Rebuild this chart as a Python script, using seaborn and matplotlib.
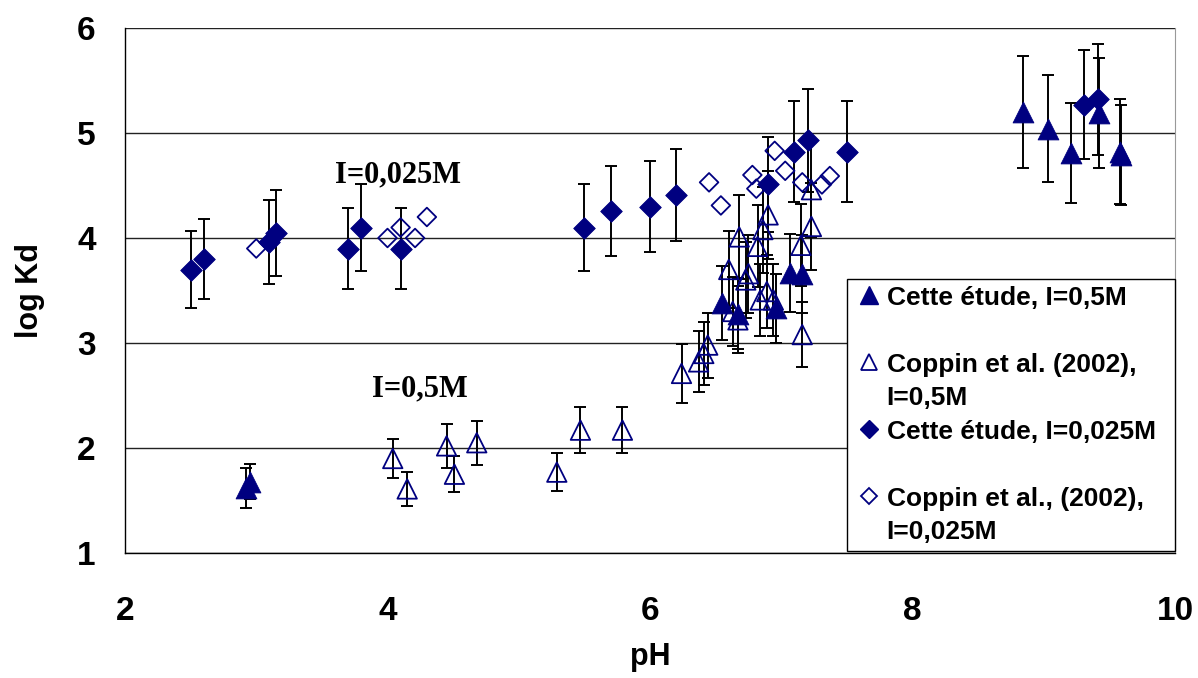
import matplotlib
matplotlib.use("Agg")
import matplotlib.pyplot as plt
from matplotlib.lines import Line2D
import seaborn as sns
import numpy as np

# Cette etude, I=0,5M (filled triangles)
ph_tri = [2.92, 2.95, 6.55, 6.67, 6.96, 7.07, 7.16, 8.84, 9.03, 9.21, 9.42, 9.58, 9.59]
kd_tri = [1.62, 1.68, 3.38, 3.28, 3.33, 3.67, 3.66, 5.20, 5.04, 4.81, 5.19, 4.82, 4.79]
err_tri = [0.19, 0.17, 0.35, 0.34, 0.33, 0.37, 0.37, 0.53, 0.51, 0.48, 0.52, 0.50, 0.48]

# Coppin et al. (2002), I=0,5M (open triangles)
ph_otri = [4.04, 4.15, 4.45, 4.51, 4.68, 5.29, 5.47, 5.79, 6.24, 6.37, 6.41, 6.44,
           6.60, 6.63, 6.67, 6.68, 6.73, 6.75, 6.82, 6.86, 6.90, 6.84, 6.89, 6.94,
           7.15, 7.23, 7.23, 7.16]
kd_otri = [1.90, 1.61, 2.02, 1.75, 2.05, 1.77, 2.17, 2.17, 2.71, 2.82, 2.90, 2.98,
           3.70, 3.30, 3.22, 4.01, 3.60, 3.66, 3.92, 4.08, 4.22, 3.41, 3.49, 3.41,
           3.93, 4.11, 4.46, 3.08]
err_otri = [0.19, 0.16, 0.21, 0.17, 0.21, 0.18, 0.22, 0.22, 0.28, 0.29, 0.30, 0.31,
            0.37, 0.33, 0.32, 0.40, 0.36, 0.37, 0.39, 0.41, 0.42, 0.34, 0.35, 0.34,
            0.39, 0.41, 0.45, 0.31]

# Cette etude, I=0,025M (filled diamonds)
ph_dia = [2.50, 2.60, 3.10, 3.15, 3.70, 3.80, 4.10, 5.50, 5.70, 6.00, 6.20, 6.90,
          7.10, 7.20, 7.50, 9.31, 9.41]
kd_dia = [3.70, 3.80, 3.96, 4.05, 3.90, 4.10, 3.90, 4.10, 4.26, 4.30, 4.41, 4.51,
          4.82, 4.93, 4.82, 5.27, 5.32]
err_dia = [0.37, 0.38, 0.40, 0.41, 0.39, 0.41, 0.39, 0.41, 0.43, 0.43, 0.44, 0.45,
           0.48, 0.49, 0.48, 0.52, 0.53]

# Coppin et al., (2002), I=0,025M (open diamonds)
ph_odia = [3.00, 4.00, 4.10, 4.21, 4.30, 6.45, 6.54, 6.78, 6.81, 6.95, 7.03, 7.16, 7.31, 7.37]
kd_odia = [3.90, 4.00, 4.10, 4.00, 4.20, 4.53, 4.31, 4.60, 4.47, 4.83, 4.64, 4.53, 4.51, 4.59]

NAVY = "#000080"

sns.set_style("white")
plt.rcParams["font.family"] = ["Liberation Sans", "DejaVu Sans"]
plt.rcParams["font.weight"] = "bold"
plt.rcParams["text.color"] = "black"
plt.rcParams["axes.labelcolor"] = "black"
plt.rcParams["xtick.color"] = "black"
plt.rcParams["ytick.color"] = "black"

fig = plt.figure(figsize=(11.98, 6.78), dpi=100)
ax = fig.add_axes([125 / 1198, 1 - 553 / 678, 1050 / 1198, 525 / 678])

ebar = dict(fmt="none", ecolor="black", elinewidth=1.4, capsize=4, capthick=1.4, zorder=2)

ax.errorbar(ph_tri, kd_tri, yerr=err_tri, **ebar)
sns.scatterplot(x=ph_tri, y=kd_tri, marker="^", s=15 ** 2, color=NAVY,
                edgecolor=NAVY, linewidth=0.6, ax=ax, zorder=3)

ax.errorbar(ph_otri, kd_otri, yerr=err_otri, **ebar)
sns.scatterplot(x=ph_otri, y=kd_otri, marker="^", s=14 ** 2, facecolor="none",
                edgecolor=NAVY, linewidth=1.3, ax=ax, zorder=3)

ax.errorbar(ph_dia, kd_dia, yerr=err_dia, **ebar)
sns.scatterplot(x=ph_dia, y=kd_dia, marker="D", s=11 ** 2, color=NAVY,
                edgecolor=NAVY, linewidth=0.6, ax=ax, zorder=3)

sns.scatterplot(x=ph_odia, y=kd_odia, marker="D", s=9.5 ** 2, facecolor="none",
                edgecolor=NAVY, linewidth=1.3, ax=ax, zorder=3)

ax.set_xlim(2, 10)
ax.set_ylim(1, 6)
ax.set_xticks([2, 4, 6, 8, 10])
ax.set_yticks([1, 2, 3, 4, 5, 6])
ax.yaxis.grid(True, color="#222222", linewidth=1)
ax.xaxis.grid(False)
ax.set_axisbelow(True)

ax.spines["top"].set_visible(False)
ax.spines["right"].set_color("#999999")
for s in ["left", "bottom"]:
    ax.spines[s].set_color("black")
    ax.spines[s].set_linewidth(1)

ax.tick_params(axis="both", direction="out", length=9, width=1, color="black",
               labelcolor="black", labelsize=24)
ax.tick_params(axis="y", pad=12)
ax.tick_params(axis="x", pad=22)
for lab in ax.get_xticklabels() + ax.get_yticklabels():
    lab.set_fontweight("bold")

ax.set_xlabel("pH", fontsize=22, fontweight="bold", labelpad=11)
ax.set_ylabel("log Kd", fontsize=22, fontweight="bold", labelpad=23)

ax.text(4.08, 4.60, "I=0,025M", family="Liberation Serif", weight="bold",
        fontsize=22, ha="center", va="center")
ax.text(4.25, 2.56, "I=0,5M", family="Liberation Serif", weight="bold",
        fontsize=22, ha="center", va="center")

blank = Line2D([], [], linestyle="none", marker=None)
handles = [
    Line2D([], [], linestyle="none", marker="^", markersize=13, color=NAVY),
    blank,
    Line2D([], [], linestyle="none", marker="^", markersize=12, markerfacecolor="none",
           markeredgecolor=NAVY, markeredgewidth=1.3),
    blank,
    Line2D([], [], linestyle="none", marker="D", markersize=9.5, color=NAVY),
    blank,
    Line2D([], [], linestyle="none", marker="D", markersize=8.5, markerfacecolor="none",
           markeredgecolor=NAVY, markeredgewidth=1.3),
    blank,
]
labels = ["Cette étude, I=0,5M", " ", "Coppin et al. (2002),", "I=0,5M",
          "Cette étude, I=0,025M", " ", "Coppin et al., (2002),", "I=0,025M"]
leg = ax.legend(handles, labels, loc="upper left",
                bbox_to_anchor=(0.6876, 0.0076, 0.3124, 0.5143), mode="expand",
                prop={"family": "Liberation Sans", "weight": "bold", "size": 19},
                frameon=True, fancybox=False, framealpha=1, edgecolor="black",
                borderpad=0.25, labelspacing=0.36, handlelength=1.2,
                handletextpad=0.05, borderaxespad=0)
leg.get_frame().set_linewidth(1)

fig.savefig("out.png", dpi=100)
